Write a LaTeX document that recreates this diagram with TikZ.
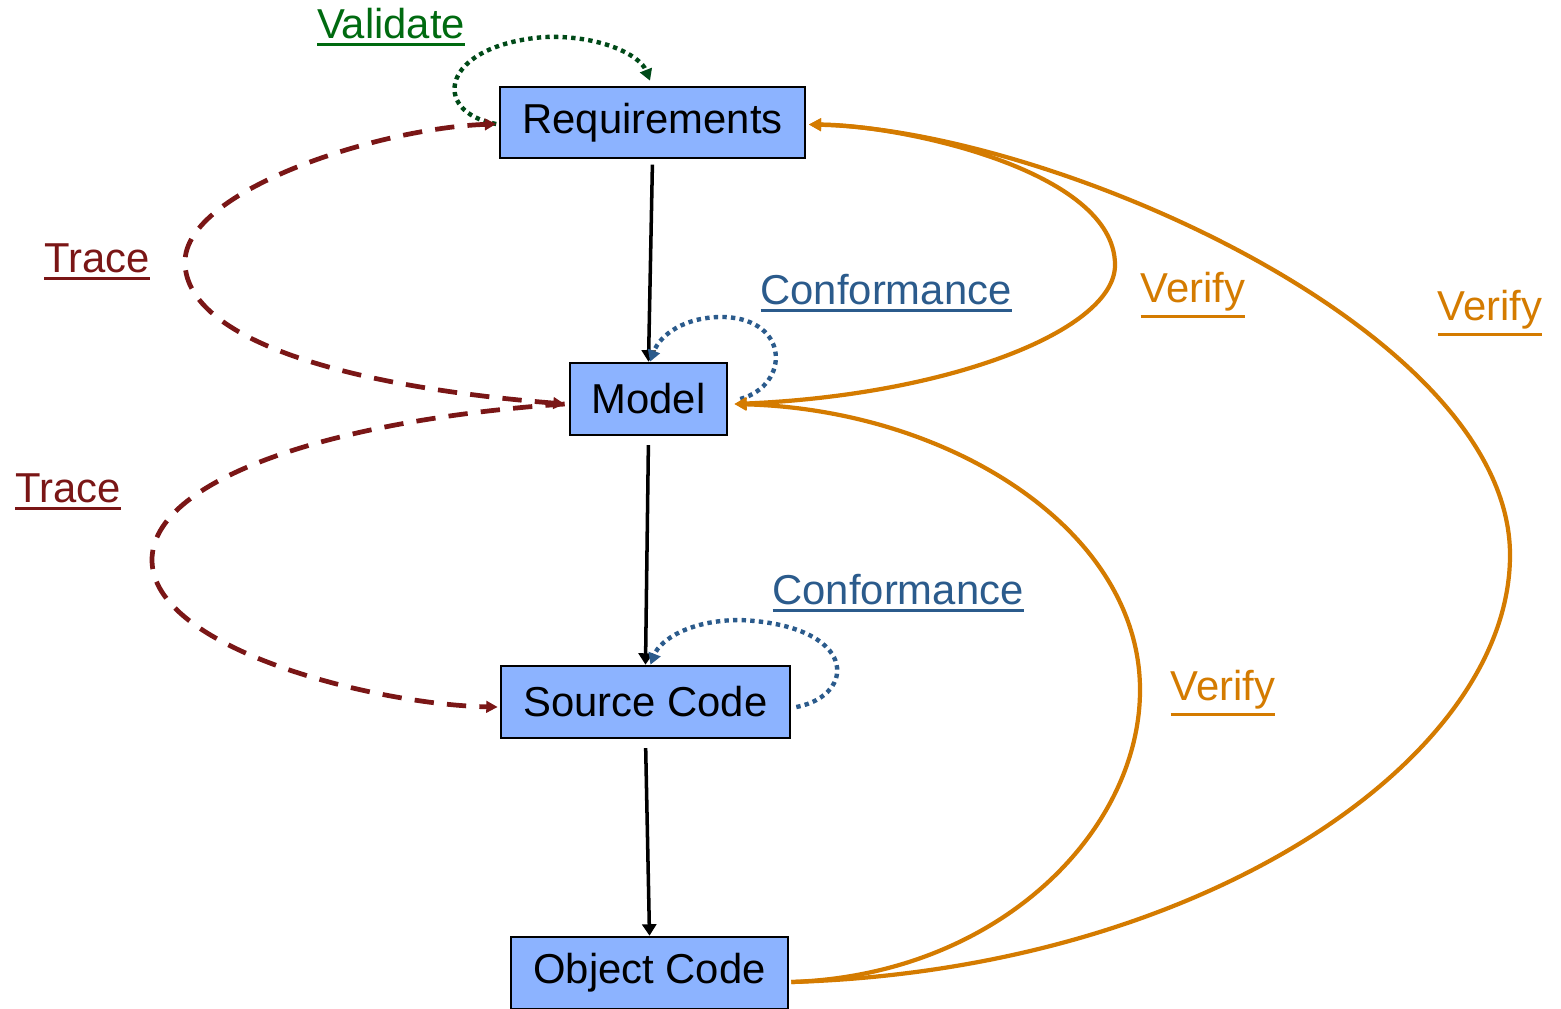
\documentclass[tikz,border=0pt]{standalone}
\usepackage{fontspec}
\setmainfont{Liberation Sans}
\usetikzlibrary{arrows.meta}
\definecolor{boxfill}{HTML}{8CB3FF}
\definecolor{valgreen}{HTML}{006A10}
\definecolor{valdot}{HTML}{004A18}
\definecolor{tracered}{HTML}{7A1616}
\definecolor{confblue}{HTML}{2B5B8C}
\definecolor{verorange}{HTML}{D47B00}
\newcommand\myul[1]{\leavevmode\vtop{\hbox{#1}\kern2.6pt\hrule height 1.7pt}}
\tikzset{
  box/.style={draw=black, line width=1.5pt, fill=boxfill, inner sep=0pt,
    font=\fontsize{23.8}{28}\selectfont, text=black},
  lbl/.style={font=\fontsize{23.8}{28}\selectfont, inner sep=0pt},
  blk/.style={draw=black, line width=2pt, -{Triangle[length=6.5pt,width=8pt]}},
  trc/.style={draw=tracered, line width=2.7pt, dash pattern=on 11pt off 7.5pt,
    -{Triangle[length=6.5pt,width=6.5pt]}},
  vld/.style={draw=valdot, line width=2.5pt, dash pattern=on 2.5pt off 2.4pt,
    -{Triangle[length=6.5pt,width=7pt]}},
  cnf/.style={draw=confblue, line width=2.5pt, dash pattern=on 2.5pt off 2.4pt,
    -{Triangle[length=6.5pt,width=7pt]}},
  ver/.style={draw=verorange, line width=2.4pt, -{Triangle[length=7pt,width=7pt]}},
}
\begin{document}
\begin{tikzpicture}[x=0.02cm,y=-0.02cm]
\useasboundingbox (0,0) rectangle (1561,1008);
\node[box, minimum width=6.1cm, minimum height=1.42cm] (r) at (652.5,122.5) {Requirements};
\node[box, minimum width=3.14cm, minimum height=1.44cm] (m) at (648.5,399) {Model};
\node[box, minimum width=5.78cm, minimum height=1.44cm] (s) at (645.5,702) {Source Code};
\node[box, minimum width=5.54cm, minimum height=1.44cm] (o) at (649.5,973) {Object Code};

% labels
\node[lbl, text=valgreen, anchor=base] (lv) at (391,38) {\myul{Validate}};
\node[lbl, text=tracered, anchor=base] (lt1) at (97,272) {\myul{Trace}};
\node[lbl, text=tracered, anchor=base] (lt2) at (68,502) {\myul{Trace}};
\node[lbl, text=confblue, anchor=base] (lc1) at (886,304) {\myul{Conformance}};
\node[lbl, text=confblue, anchor=base] (lc2) at (898,604) {\myul{Conformance}};
\node[lbl, text=verorange, anchor=base] (lv1) at (1193,302) {\myul{Verify}};
\node[lbl, text=verorange, anchor=base] (lv2) at (1490,320) {\myul{Verify}};
\node[lbl, text=verorange, anchor=base] (lv3) at (1223,700) {\myul{Verify}};

% main chain
\draw[blk, shorten <=3pt] (r.south) -- (m.north);
\draw[blk, shorten <=5pt] (m.south) -- (s.north);
\draw[blk, shorten <=5pt] (s.south) -- (o.north);

% anchor points
\coordinate (rw) at ([xshift=-0.05cm,yshift=-0.03cm]r.west);
\coordinate (mw) at ([xshift=-0.08cm,yshift=-0.1cm]m.west);
\coordinate (sw) at ([xshift=-0.04cm,yshift=-0.1cm]s.west);
\coordinate (rn) at ([xshift=-0.05cm,yshift=0.1cm]r.north);
\coordinate (mn) at ([xshift=0.03cm]m.north);
\coordinate (sn) at ([xshift=0.1cm]s.north);
\coordinate (re) at ([xshift=0.05cm,yshift=-0.04cm]r.east);
\coordinate (me) at ([xshift=0.12cm,yshift=-0.1cm]m.east);
\coordinate (mec) at ([xshift=0.24cm]m.east);
\coordinate (sec) at ([xshift=0.1cm,yshift=-0.1cm]s.east);
\coordinate (oe) at ([xshift=0.04cm,yshift=-0.18cm]o.east);

% validate
\draw[vld] (rw) .. controls (430,112) and (440,45) .. (545,37)
  .. controls (600,35) and (640,55) .. (rn);

% trace
\draw[trc, {Triangle[length=6.5pt,width=6.5pt]}-{Triangle[length=6.5pt,width=6.5pt]}]
  (mw) .. controls (330,385) and (185,335) .. (185,262)
  .. controls (185,190) and (380,128) .. (rw);
\draw[trc] (mw) .. controls (330,420) and (152,480) .. (152,560)
  .. controls (152,650) and (380,705) .. (sw);

% conformance
\draw[cnf] (mec) .. controls (790,385) and (790,320) .. (725,317)
  .. controls (685,316) and (660,335) .. (mn);
\draw[cnf] (sec) .. controls (858,695) and (858,625) .. (740,620)
  .. controls (690,620) and (660,640) .. (sn);

% verify
\draw[ver, {Triangle[length=7pt,width=7pt]}-{Triangle[length=7pt,width=7pt]}]
  (me) .. controls (950,395) and (1115,330) .. (1115,265)
  .. controls (1115,170) and (900,125) .. (re);
\draw[ver] (oe) .. controls (1000,975) and (1140,830) .. (1140,690)
  .. controls (1140,530) and (950,410) .. (me);
\draw[ver] (oe) .. controls (1200,970) and (1510,760) .. (1510,555)
  .. controls (1510,330) and (1050,130) .. (re);
\end{tikzpicture}
\end{document}
